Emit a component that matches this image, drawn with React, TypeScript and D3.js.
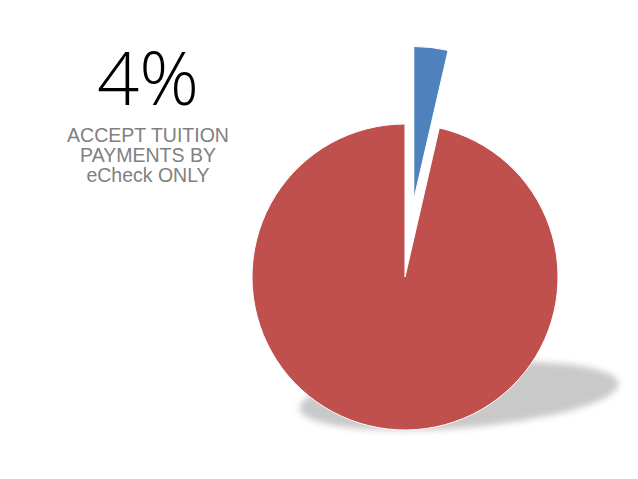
import React from "react";
import * as d3 from "d3";

const categories = ["eCheck only", "Other"];
const values = [3.6, 96.4];
const colors = ["#4F81BD", "#C0504D"];
const bigLabel = "4%";
const captionLines = ["ACCEPT TUITION", "PAYMENTS BY", "eCheck ONLY"];

export default function App() {
  const W = 638, H = 479;
  const cx = 405, cy = 277, r = 153;
  const explode = [78, 0];
  const pie = d3.pie<number>().sort(null).startAngle(0).endAngle(2 * Math.PI);
  const arcs = pie(values);
  const arc = d3.arc<d3.PieArcDatum<number>>().innerRadius(0).outerRadius(r);
  return (
    <svg width={W} height={H} style={{ position: "absolute", left: 0, top: 0, background: "#fff" }}>
      <defs>
        <filter id="blur" x="-20%" y="-50%" width="140%" height="200%">
          <feGaussianBlur stdDeviation="3" />
        </filter>
      </defs>
      <rect width={W} height={H} fill="#fff" />
      <ellipse cx={459} cy={396} rx={160} ry={32} fill="#c9c9c9" filter="url(#blur)" transform="rotate(-4.5 459 396)" />
      {arcs.map((a, i) => {
        const mid = (a.startAngle + a.endAngle) / 2;
        const dx = Math.sin(mid) * explode[i];
        const dy = -Math.cos(mid) * explode[i];
        return (
          <path
            key={categories[i]}
            d={arc(a) || ""}
            fill={colors[i]}
            stroke="#fff"
            strokeWidth={1}
            transform={`translate(${cx + dx},${cy + dy})`}
          />
        );
      })}
      <text x={148} y={105} textAnchor="middle" fontFamily="'Open Sans', sans-serif" fontWeight={300} fontSize={74} fill="#000">
        {bigLabel}
      </text>
      {captionLines.map((t, i) => (
        <text key={t} x={148} y={142 + i * 20} textAnchor="middle" fontFamily="'Liberation Sans', sans-serif" fontSize={19.5} fill="#808080">
          {t}
        </text>
      ))}
    </svg>
  );
}
